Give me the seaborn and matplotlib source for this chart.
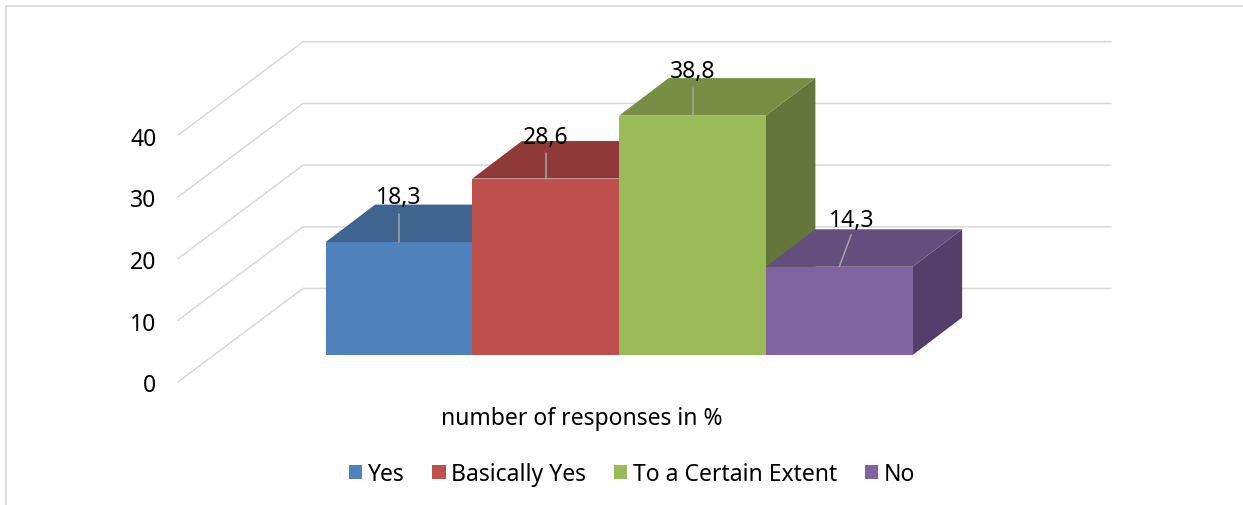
import matplotlib
matplotlib.use("Agg")
import matplotlib.pyplot as plt
from matplotlib.lines import Line2D
from matplotlib.patches import Polygon
import pandas as pd
import seaborn as sns

# Survey results
categories = ["Yes", "Basically Yes", "To a Certain Extent", "No"]
values = [18.3, 28.6, 38.8, 14.3]
y_ticks = [0, 10, 20, 30, 40]
axis_caption = "number of responses in %"

front_colors = ["#4F81BD", "#C0504D", "#9BBB59", "#8064A2"]
top_colors = ["#3F6490", "#8F3A38", "#778E44", "#634E7D"]
side_colors = ["#365678", "#7A302E", "#64763A", "#533F69"]

GRID = "#D9D9D9"
LEADER = "#A6A6A6"
FONT = "Noto Sans"
FONT_SIZE = 16.5

W, H = 1243, 506
PX_PER_CAT = 146.75
PX_PER_UNIT = 6.17
CAT0_PX = 399.0
BASE_PX = 356.0


def dx(px):
    return px / PX_PER_CAT


def dy(px):
    return px / PX_PER_UNIT


def x_at(px):
    return dx(px - CAT0_PX)


def y_at(px):
    return dy(BASE_PX - px)


sns.set_theme(style="white")
plt.rcParams["font.family"] = [FONT, "DejaVu Sans"]

fig = plt.figure(figsize=(W / 100, H / 100), dpi=100)
ax = fig.add_axes([0, 0, 1, 1])

df = pd.DataFrame({"answer": categories, "percent": values})
sns.barplot(
    data=df, x="answer", y="percent", hue="answer", order=categories,
    hue_order=categories, palette=front_colors, saturation=1, width=1,
    dodge=False, linewidth=0, ax=ax, zorder=3, legend=True,
)

ax.set_xlim(x_at(0), x_at(W))
ax.set_ylim(y_at(H), y_at(0))
ax.set_xlabel("")
ax.set_ylabel("")

# Side and top faces of each box, stacked left to right
depth_x, depth_y = dx(49.5), dy(37.5)
for i, (bar, top_c, side_c) in enumerate(zip(ax.patches[:4], top_colors, side_colors)):
    left, right, v = bar.get_x(), bar.get_x() + bar.get_width(), bar.get_height()
    base_z = 3 + i
    bar.set_zorder(base_z + 0.5)
    ax.add_patch(Polygon(
        [(right, 0), (right, v), (right + depth_x, v + depth_y), (right + depth_x, depth_y)],
        closed=True, facecolor=side_c, edgecolor="none", zorder=base_z))
    ax.add_patch(Polygon(
        [(left, v), (right, v), (right + depth_x, v + depth_y), (left + depth_x, v + depth_y)],
        closed=True, facecolor=top_c, edgecolor="none", zorder=base_z))

# Back wall gridlines with their receding segments, plus the axis numbers
front_x, back_x, end_x = x_at(178), x_at(303), x_at(1111)
front_off, back_off = y_at(383), y_at(289.5)
tick_off = y_at(386.5)
for t in y_ticks:
    ax.plot([front_x, back_x, end_x], [t + front_off, t + back_off, t + back_off],
            color=GRID, lw=1.1, solid_joinstyle="miter", zorder=1)
    ax.text(x_at(156.5), t + tick_off, str(t), ha="right", va="center",
            fontsize=FONT_SIZE, color="black", zorder=10)

# Data labels with leader lines; the last one sits off to the right
label_offsets = [(0, 45), (0, 42), (0, 45), (12, 47)]
leader_ends = [(0, 28), (0, 26), (0, 28), (12, 32)]
for i, v in enumerate(values):
    ox, oy = label_offsets[i]
    lx, ly = leader_ends[i]
    start_x = float(i)
    ax.plot([start_x, start_x + dx(lx)], [v, v + dy(ly)], color=LEADER, lw=1.1, zorder=9)
    ax.text(start_x + dx(ox), v + dy(oy), f"{v:.1f}".replace(".", ","),
            ha="center", va="center", fontsize=FONT_SIZE, color="black", zorder=10)

ax.text(x_at(581.5), y_at(419), axis_caption, ha="center", va="center",
        fontsize=FONT_SIZE, color="black")

sns.move_legend(
    ax, "center", bbox_to_anchor=(632 / W, 1 - 475 / H), ncol=4, frameon=False,
    title=None, fontsize=FONT_SIZE, handlelength=0.58, handleheight=0.62,
    handletextpad=0.25, columnspacing=1.2, labelcolor="black",
)

ax.set_axis_off()

# Thin outer frame running off the right and bottom edges
for xs, ys in [((5.5, W), (6.5, 6.5)), ((5.5, 5.5), (6.5, H))]:
    fig.add_artist(Line2D([x / W for x in xs], [1 - y / H for y in ys],
                          color=GRID, lw=1.2, transform=fig.transFigure))

fig.savefig("out.png", dpi=100, facecolor="white")
